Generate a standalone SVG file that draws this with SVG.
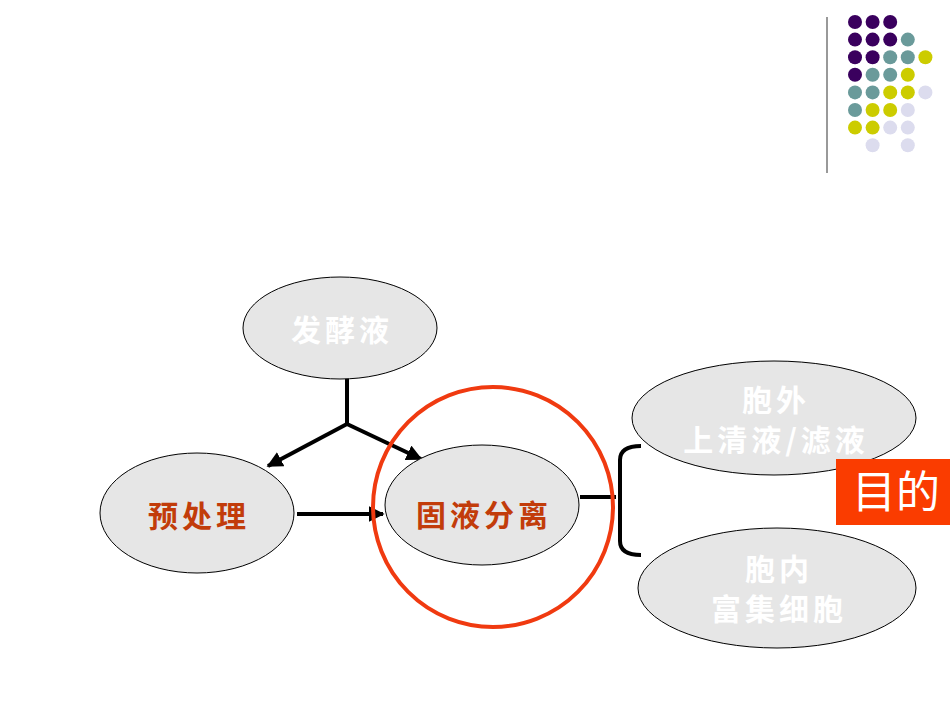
<svg xmlns="http://www.w3.org/2000/svg" width="950" height="713" viewBox="0 0 950 713">
<style>
.n{fill:#e6e6e6;stroke:#000;stroke-width:1}
.w{font-family:"Noto Sans CJK SC",sans-serif;font-weight:bold;font-size:30px;fill:#fff;text-anchor:middle;letter-spacing:4px}
.r{font-family:"Noto Sans CJK SC",sans-serif;font-weight:bold;font-size:30px;fill:#c23c0a;text-anchor:middle;letter-spacing:4px}
.c{stroke:#000;stroke-width:4;fill:none}
.p{fill:#3a005e}.t{fill:#6a9a9a}.y{fill:#cccc00}.l{fill:#dcdcee}
</style>
<defs><marker id="a" viewBox="0 0 10 10" refX="9" refY="5" markerWidth="4" markerHeight="4" orient="auto"><path d="M0,0L10,5L0,10z" fill="#000"/></marker></defs>
<g id="deco">
<line x1="827" y1="17" x2="827" y2="173" stroke="#777" stroke-width="1.5"/>
<g transform="translate(855,22)">
<circle class="p" cx="0" cy="0" r="7"/><circle class="p" cx="17.6" cy="0" r="7"/><circle class="p" cx="35.2" cy="0" r="7"/>
<circle class="p" cx="0" cy="17.6" r="7"/><circle class="p" cx="17.6" cy="17.6" r="7"/><circle class="p" cx="35.2" cy="17.6" r="7"/><circle class="t" cx="52.8" cy="17.6" r="7"/>
<circle class="p" cx="0" cy="35.2" r="7"/><circle class="p" cx="17.6" cy="35.2" r="7"/><circle class="t" cx="35.2" cy="35.2" r="7"/><circle class="t" cx="52.8" cy="35.2" r="7"/><circle class="y" cx="70.4" cy="35.2" r="7"/>
<circle class="p" cx="0" cy="52.8" r="7"/><circle class="t" cx="17.6" cy="52.8" r="7"/><circle class="t" cx="35.2" cy="52.8" r="7"/><circle class="y" cx="52.8" cy="52.8" r="7"/>
<circle class="t" cx="0" cy="70.4" r="7"/><circle class="t" cx="17.6" cy="70.4" r="7"/><circle class="y" cx="35.2" cy="70.4" r="7"/><circle class="y" cx="52.8" cy="70.4" r="7"/><circle class="l" cx="70.4" cy="70.4" r="7"/>
<circle class="t" cx="0" cy="88" r="7"/><circle class="y" cx="17.6" cy="88" r="7"/><circle class="y" cx="35.2" cy="88" r="7"/><circle class="l" cx="52.8" cy="88" r="7"/>
<circle class="y" cx="0" cy="105.6" r="7"/><circle class="y" cx="17.6" cy="105.6" r="7"/><circle class="l" cx="35.2" cy="105.6" r="7"/><circle class="l" cx="52.8" cy="105.6" r="7"/>
<circle class="l" cx="17.6" cy="123.2" r="7"/><circle class="l" cx="52.8" cy="123.2" r="7"/>
</g>
</g>
<g id="connectors">
<path class="c" d="M347,378V424"/>
<path class="c" d="M347,424L268,466" marker-end="url(#a)"/>
<path class="c" d="M347,424L421,459" marker-end="url(#a)"/>
<path class="c" d="M297,514H383" marker-end="url(#a)"/>
<path class="c" d="M580,497H616"/>
<path class="c" d="M641,446Q620,446 620,460V541Q620,555 641,555"/>
</g>
<g id="n1"><ellipse class="n" cx="340" cy="328" rx="97" ry="51"/><text class="w" x="342" y="341">发酵液</text></g>
<g id="n2"><ellipse class="n" cx="197" cy="513" rx="97" ry="60"/><text class="r" x="199" y="527">预处理</text></g>
<g id="n3"><ellipse class="n" cx="482" cy="505" rx="97" ry="60"/><text class="r" x="484" y="526">固液分离</text></g>
<circle id="hl" cx="493" cy="507" r="120" fill="none" stroke="#f03a10" stroke-width="4"/>
<g id="n4"><ellipse class="n" cx="774" cy="418" rx="142" ry="57"/><text class="w" x="776" y="411" font-size="26">胞外</text><text class="w" x="776" y="451" font-size="26">上清液/滤液</text></g>
<g id="n5"><ellipse class="n" cx="777" cy="588" rx="139" ry="60"/><text class="w" x="779" y="580" font-size="26">胞内</text><text class="w" x="779" y="620" font-size="26">富集细胞</text></g>
<g id="goal"><rect x="836" y="459" width="114" height="66" fill="#fa3c00"/><text x="896" y="508" font-family="Noto Sans CJK SC,sans-serif" font-size="44" fill="#fff" text-anchor="middle">目的</text></g>
</svg>
